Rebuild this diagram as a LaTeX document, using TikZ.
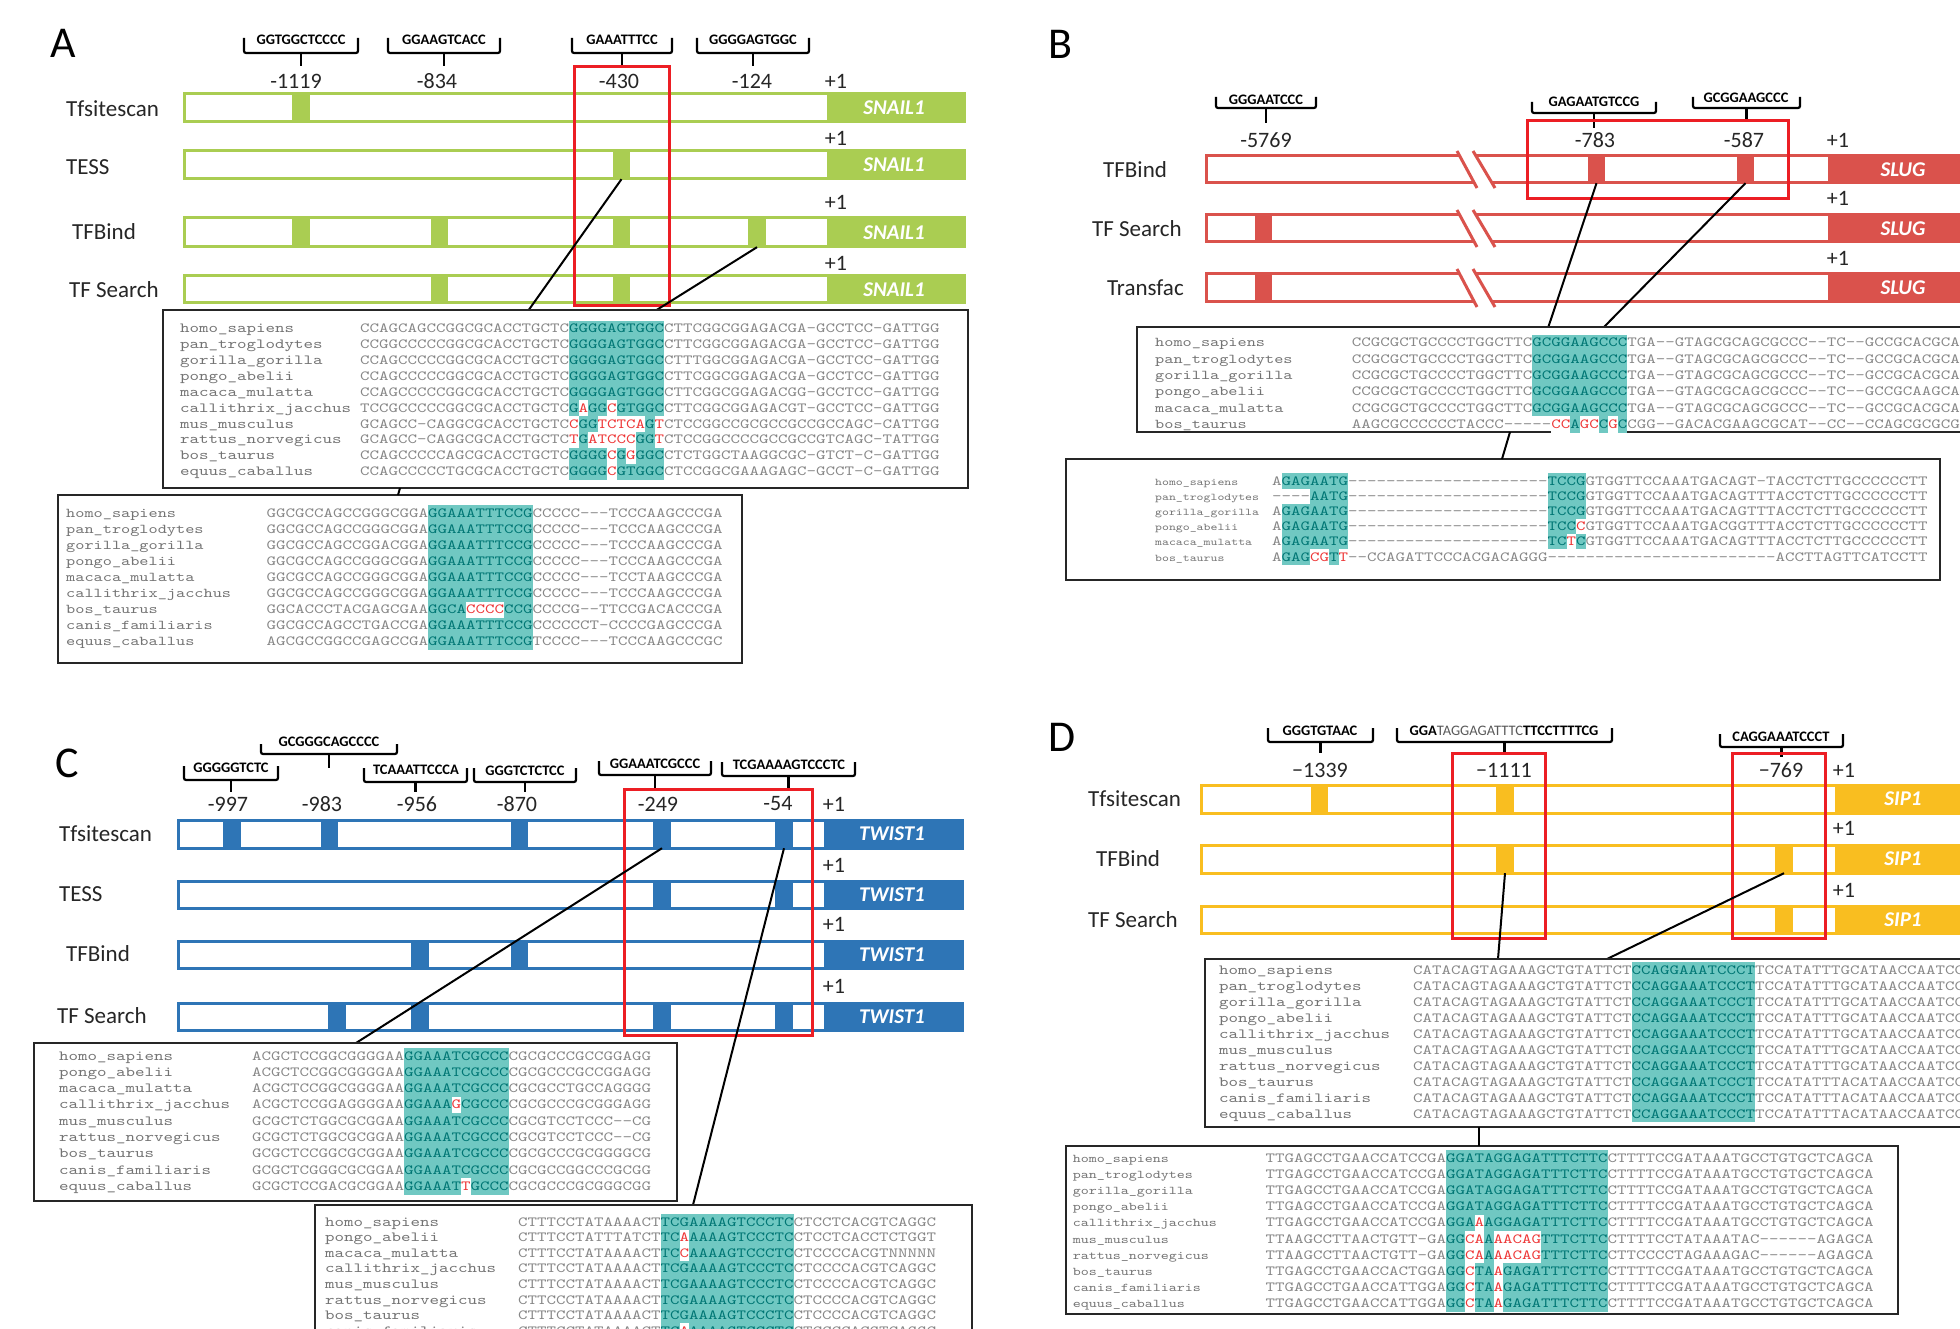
\documentclass[tikz,border=0pt]{standalone}
\usepackage{fontspec}
\setmainfont{Carlito}
\newfontfamily\seqf[FakeStretch=1.2925]{lmmono10-regular.otf}
\definecolor{cgreen}{RGB}{170,205,82}
\definecolor{cred}{RGB}{218,82,76}
\definecolor{cblue}{RGB}{46,117,182}
\definecolor{cyell}{RGB}{249,190,32}
\definecolor{boxred}{RGB}{236,30,36}
\definecolor{hlc}{RGB}{112,200,194}
\definecolor{motc}{RGB}{0,118,116}
\definecolor{seqc}{RGB}{135,135,135}
\definecolor{namec}{RGB}{115,115,115}
\definecolor{redc}{RGB}{238,55,55}
\newlength\rowh \newlength\rowd
\setlength\rowh{16pt}\setlength\rowd{4pt}
\def\NFS{14}
\newcommand\hl[1]{\setbox0=\hbox{#1}\rlap{\color{hlc}\rule[-\rowd]{\wd0}{\rowh}}\textcolor{motc}{#1}}
\newcommand\rd[1]{\setbox2=\hbox{#1}\rlap{\color{white}\rule[-\rowd]{\wd2}{\rowh}}\textcolor{redc}{#1}}
\newcommand\setblock[6]{\def\BID{#1}\def\NX{#2}\def\SX{#3}\def\YZ{#4}\def\PT{#5}\def\NFS{#6}%
  \setlength\rowh{#5pt}\setlength\rowd{\dimexpr #5pt/2-4pt\relax}}
\newcommand\arow[3]{%
  \node[namest] (\BID-#1n) at ({\NX},{\YZ+\PT*#1+4}) {#2};
  \node[seqst] (\BID-#1s) at ({\SX},{\YZ+\PT*#1+4}) {#3};}
\newcommand\genebar[9]{%
  \draw[draw=#2, line width=3pt, fill=white] (#3,#6) rectangle (#5,#7);
  \fill[#2] (#4,#6) rectangle (#5,#7);
  \node[genest] (#1) at ({#9},{(#6+#7)/2}) {#8};}
\newcommand\smark[6]{\node[sitemark, fill=#2, minimum width={(#4-#3)*1pt}, minimum height={(#6-#5)*1pt}] (#1) at ({(#3+#4)/2},{(#5+#6)/2}) {};}
\newcommand\brk[5]{\draw[brkst] (#1,#3) -- (#1,#4) -- (#2,#4) -- (#2,#3);
  \draw[brkst] ({(#1+#2)/2},#4) -- ({(#1+#2)/2},#5);}
\newcommand\brkmark[2]{%
  \fill[white] ({1457},{#1-5}) -- ({1473},{#1-5}) -- ({1495},{#2+5}) -- ({1477},{#2+5}) -- cycle;
  \draw[cred, line width=3pt] ({1457},{#1-5}) -- ({1477},{#2+5});
  \draw[cred, line width=3pt] ({1473},{#1-5}) -- ({1495},{#2+5});}
\tikzset{
 plet/.style={font=\fontsize{44}{48}\selectfont, inner sep=0},
 brkst/.style={line width=2.2pt, rounded corners=2pt, draw=black},
 brklbl/.style={font=\bfseries\fontsize{14.5}{16}\selectfont, inner sep=0},
 numst/.style={font=\fontsize{22}{24}\selectfont, inner sep=0, text=black!85},
 lblst/.style={font=\fontsize{23}{26}\selectfont, inner sep=0, anchor=west, text=black!85},
 genest/.style={font=\bfseries\itshape\fontsize{21}{24}\selectfont, text=white, inner sep=0},
 redbox/.style={draw=boxred, line width=3pt},
 conn/.style={draw=black, line width=2pt},
 alnbox/.style={draw=black!85, line width=2.5pt, fill=white},
 namest/.style={anchor=base west, inner sep=0, font=\seqf\fontsize{\NFS}{16}\selectfont, text=namec},
 seqst/.style={anchor=base west, inner sep=0, font=\seqf\fontsize{14}{16}\selectfont, text=seqc},
 sitemark/.style={inner sep=0, draw=none},
}
\begin{document}
\begin{tikzpicture}[x=1pt,y=-1pt]
\useasboundingbox (0,0) rectangle (1960,1329);
\clip (0,0) rectangle (1960,1329);
\fill[white] (0,0) rectangle (1960,1329);

%%%%%%%%%%%%%%%% PANEL A
\node[plet] (LA) at (63,43) {A};
\brk{244}{358}{38}{53}{66}
\brk{388}{500}{38}{53}{66}
\brk{572}{672}{38}{53}{66}
\brk{697}{809}{38}{53}{66}
\node[brklbl] (Ak1) at (301,40) {GGTGGCTCCCC};
\node[brklbl] (Ak2) at (444,40) {GGAAGTCACC};
\node[brklbl] (Ak3) at (622,40) {GAAATTTCC};
\node[brklbl] (Ak4) at (753,40) {GGGGAGTGGC};
\node[numst] (An1) at (296,81) {-1119};
\node[numst] (An2) at (437,81) {-834};
\node[numst] (An3) at (619,81) {-430};
\node[numst] (An4) at (752,81) {-124};
\node[numst] (Ap1) at (836,81) {+1};
\node[numst] (Ap2) at (836,138) {+1};
\node[numst] (Ap3) at (836,202) {+1};
\node[numst] (Ap4) at (836,263) {+1};
\node[lblst] (Al1) at (66,109) {Tfsitescan};
\node[lblst] (Al2) at (66,167) {TESS};
\node[lblst] (Al3) at (72,232) {TFBind};
\node[lblst] (Al4) at (69,290) {TF Search};
\genebar{Ag1}{cgreen}{184}{827}{964}{94}{122}{SNAIL1}{894}
\genebar{Ag2}{cgreen}{184}{827}{964}{151}{179}{SNAIL1}{894}
\genebar{Ag3}{cgreen}{184}{827}{964}{218}{247}{SNAIL1}{894}
\genebar{Ag4}{cgreen}{184}{827}{964}{276}{303}{SNAIL1}{894}
\smark{At1}{cgreen}{292}{310}{94}{122}
\smark{Ae1}{cgreen}{613}{630}{151}{179}
\smark{Ab1}{cgreen}{292}{310}{218}{247}
\smark{Ab2}{cgreen}{431}{448}{218}{247}
\smark{Ab3}{cgreen}{613}{630}{218}{247}
\smark{Ab4}{cgreen}{748}{766}{218}{247}
\smark{As1}{cgreen}{431}{448}{276}{303}
\smark{As2}{cgreen}{613}{630}{276}{303}
\draw[redbox] (574,67) rectangle (669,306);
\coordinate (A1a) at (528,311);
\coordinate (A1b) at (655,311);
\draw[conn] (Ae1.south) -- (A1a);
\draw[conn] (Ab4.south) -- (A1b);
\draw[alnbox] (163,310) rectangle (968,488);
\draw[alnbox] (58,495) rectangle (742,663);
\coordinate (A1c) at (400,488);
\coordinate (A2c) at (398,495);
\draw[conn] (A1c) -- (A2c);

\setblock{A1}{180}{360}{329}{15.85}{14}
\arow{0}{homo\_sapiens}{CCAGCAGCCGGCGCACCTGCTC\hl{GGGGAGTGGC}CTTCGGCGGAGACGA-GCCTCC-GATTGG}
\arow{1}{pan\_troglodytes}{CCGGCCCCCGGCGCACCTGCTC\hl{GGGGAGTGGC}CTTCGGCGGAGACGA-GCCTCC-GATTGG}
\arow{2}{gorilla\_gorilla}{CCAGCCCCCGGCGCACCTGCTC\hl{GGGGAGTGGC}CTTTGGCGGAGACGA-GCCTCC-GATTGG}
\arow{3}{pongo\_abelii}{CCAGCCCCCGGCGCACCTGCTC\hl{GGGGAGTGGC}CTTCGGCGGAGACGA-GCCTCC-GATTGG}
\arow{4}{macaca\_mulatta}{CCAGCCCCCGGCGCACCTGCTC\hl{GGGGAGTGGC}CTTCGGCGGAGACGG-GCCTCC-GATTGG}
\arow{5}{callithrix\_jacchus}{TCCGCCCCCGGCGCACCTGCTC\hl{G\rd{A}GG\rd{C}GTGGC}CTTCGGCGGAGACGT-GCCTCC-GATTGG}
\arow{6}{mus\_musculus}{GCAGCC-CAGGCGCACCTGCTC\hl{\rd{C}GG\rd{TCTCA}G\rd{T}}CTCCGGCCGCGCCGCCGCCAGC-CATTGG}
\arow{7}{rattus\_norvegicus}{GCAGCC-CAGGCGCACCTGCTC\hl{\rd{T}G\rd{ATCCC}GG\rd{T}}CTCCGGCCCCGCCGCCGTCAGC-TATTGG}
\arow{8}{bos\_taurus}{CCAGCCCCCAGCGCACCTGCTC\hl{GGGG\rd{C}G\rd{G}GGC}CTCTGGCTAAGGCGC-GTCT-C-GATTGG}
\arow{9}{equus\_caballus}{CCAGCCCCCTGCGCACCTGCTC\hl{GGGG\rd{C}GTGGC}CTCCGGCGAAAGAGC-GCCT-C-GATTGG}

\setblock{A2}{66}{266.5}{513}{16.1}{13.5}
\arow{0}{homo\_sapiens}{GGCGCCAGCCGGGCGGA\hl{GGAAATTTCCG}CCCCC---TCCCAAGCCCGA}
\arow{1}{pan\_troglodytes}{GGCGCCAGCCGGGCGGA\hl{GGAAATTTCCG}CCCCC---TCCCAAGCCCGA}
\arow{2}{gorilla\_gorilla}{GGCGCCAGCCGGACGGA\hl{GGAAATTTCCG}CCCCC---TCCCAAGCCCGA}
\arow{3}{pongo\_abelii}{GGCGCCAGCCGGGCGGA\hl{GGAAATTTCCG}CCCCC---TCCCAAGCCCGA}
\arow{4}{macaca\_mulatta}{GGCGCCAGCCGGGCGGA\hl{GGAAATTTCCG}CCCCC---TCCTAAGCCCGA}
\arow{5}{callithrix\_jacchus}{GGCGCCAGCCGGGCGGA\hl{GGAAATTTCCG}CCCCC---TCCCAAGCCCGA}
\arow{6}{bos\_taurus}{GGCACCCTACGAGCGAA\hl{GGCA\rd{CCCC}CCG}CCCCG--TTCCGACACCCGA}
\arow{7}{canis\_familiaris}{GGCGCCAGCCTGACCGA\hl{GGAAATTTCCG}CCCCCCT-CCCCGAGCCCGA}
\arow{8}{equus\_caballus}{AGCGCCGGCCGAGCCGA\hl{GGAAATTTCCG}TCCCC---TCCCAAGCCCGC}

%%%%%%%%%%%%%%%% PANEL B
\node[plet] (LB) at (1060,44) {B};
\brk{1216}{1316}{97}{108}{123}
\brk{1532}{1656}{102}{113}{128}
\brk{1693}{1800}{97}{108}{121}
\node[brklbl] (Bk1) at (1266,100) {GGGAATCCC};
\node[brklbl] (Bk2) at (1594,102) {GAGAATGTCCG};
\node[brklbl] (Bk3) at (1746,98) {GCGGAAGCCC};
\node[numst] (Bn1) at (1266,140) {-5769};
\node[numst] (Bn2) at (1595,140) {-783};
\node[numst] (Bn3) at (1744,140) {-587};
\node[numst] (Bp1) at (1838,140) {+1};
\node[numst] (Bp2) at (1838,198) {+1};
\node[numst] (Bp3) at (1838,258) {+1};
\node[lblst] (Bl1) at (1103,169.5) {TFBind};
\node[lblst] (Bl2) at (1092,228.5) {TF Search};
\node[lblst] (Bl3) at (1107,288) {Transfac};
\genebar{Bg1}{cred}{1206}{1828}{1990}{156}{183}{SLUG}{1903}
\genebar{Bg2}{cred}{1206}{1828}{1990}{215}{242}{SLUG}{1903}
\genebar{Bg3}{cred}{1206}{1828}{1990}{274}{302}{SLUG}{1903}
\brkmark{156}{183}
\brkmark{215}{242}
\brkmark{274}{302}
\smark{Bb1}{cred}{1588}{1605}{156}{183}
\smark{Bb2}{cred}{1737}{1754}{156}{183}
\smark{Bs1}{cred}{1255}{1272}{215}{242}
\smark{Bt1}{cred}{1255}{1272}{274}{302}
\draw[redbox] (1527,121) rectangle (1788,199);
\coordinate (B1a) at (1548,328);
\coordinate (B1b) at (1603,328);
\draw[conn] (Bb1.south) -- (B1a);
\draw[conn] (Bb2.south) -- (B1b);
\draw[alnbox] (1137,327) rectangle (1990,432);
\draw[alnbox] (1066,459) rectangle (1940,580);
\coordinate (B1c) at (1510,432);
\coordinate (B2c) at (1502,459);
\draw[conn] (B1c) -- (B2c);

\setblock{B1}{1155}{1351.6}{343}{16.3}{13.5}
\arow{0}{homo\_sapiens}{CCGCGCTGCCCCTGGCTTC\hl{GCGGAAGCCC}TGA--GTAGCGCAGCGCCC--TC--GCCGCACGCAA}
\arow{1}{pan\_troglodytes}{CCGCGCTGCCCCTGGCTTC\hl{GCGGAAGCCC}TGA--GTAGCGCAGCGCCC--TC--GCCGCACGCAA}
\arow{2}{gorilla\_gorilla}{CCGCGCTGCCCCTGGCTTC\hl{GCGGAAGCCC}TGA--GTAGCGCAGCGCCC--TC--GCCGCACGCAA}
\arow{3}{pongo\_abelii}{CCGCGCTGCCCCTGGCTTC\hl{GCGGAAGCCC}TGA--GTAGCGCAGCGCCC--TC--GCCGCAAGCAA}
\arow{4}{macaca\_mulatta}{CCGCGCTGCCCCTGGCTTC\hl{GCGGAAGCCC}TGA--GTAGCGCAGCGCCC--TC--GCCGCACGCAA}
\arow{5}{bos\_taurus}{AAGCGCCCCCCTACCC-----\rd{CC}\hl{A}\rd{GC}\hl{C}\rd{G}\hl{C}CGG--GACACGAAGCGCAT--CC--CCAGCGCGCGA}

\setblock{B2}{1155}{1272}{481}{15.2}{10.2}
\arow{0}{homo\_sapiens}{A\hl{GAGAATG}---------------------\hl{TCCG}GTGGTTCCAAATGACAGT-TACCTCTTGCCCCCCTT}
\arow{1}{pan\_troglodytes}{----\hl{AATG}---------------------\hl{TCCG}GTGGTTCCAAATGACAGTTTACCTCTTGCCCCCCTT}
\arow{2}{gorilla\_gorilla}{A\hl{GAGAATG}---------------------\hl{TCCG}GTGGTTCCAAATGACAGTTTACCTCTTGCCCCCCTT}
\arow{3}{pongo\_abelii}{A\hl{GAGAATG}---------------------\hl{TCC\rd{C}}GTGGTTCCAAATGACGGTTTACCTCTTGCCCCCCTT}
\arow{4}{macaca\_mulatta}{A\hl{GAGAATG}---------------------\hl{TC\rd{T}C}GTGGTTCCAAATGACAGTTTACCTCTTGCCCCCCTT}
\arow{5}{bos\_taurus}{A\hl{GAG\rd{CG}T\rd{T}}--CCAGATTCCCACGACAGGG------------------------ACCTTAGTTCATCCTT}

%%%%%%%%%%%%%%%% PANEL C
\node[plet] (LC) at (67,763) {C};
\brk{184}{278}{766}{780}{792}
\brk{261}{397}{744}{754}{768}
\brk{364}{467}{768}{782}{792}
\brk{474}{576}{768}{782}{792}
\brk{599}{711}{761}{775}{789}
\brk{722}{855}{762}{776}{789}
\node[brklbl] (Ck1) at (231,768) {GGGGGTCTC};
\node[brklbl] (Ck2) at (329,742) {GCGGGCAGCCCC};
\node[brklbl] (Ck3) at (416,770) {TCAAATTCCCA};
\node[brklbl] (Ck4) at (525,771) {GGGTCTCTCC};
\node[brklbl] (Ck5) at (655,764) {GGAAATCGCCC};
\node[brklbl] (Ck6) at (789,765) {TCGAAAAGTCCCTC};
\node[numst] (Cn1) at (228,804) {-997};
\node[numst] (Cn2) at (322,804) {-983};
\node[numst] (Cn3) at (417,804) {-956};
\node[numst] (Cn4) at (517,804) {-870};
\node[numst] (Cn5) at (658,804) {-249};
\node[numst] (Cn6) at (778,804) {-54};
\node[numst] (Cp1) at (834,804) {+1};
\node[numst] (Cp2) at (834,865) {+1};
\node[numst] (Cp3) at (834,924) {+1};
\node[numst] (Cp4) at (834,986) {+1};
\node[lblst] (Cl1) at (59,834) {Tfsitescan};
\node[lblst] (Cl2) at (59,894) {TESS};
\node[lblst] (Cl3) at (66,954) {TFBind};
\node[lblst] (Cl4) at (57,1016) {TF Search};
\genebar{Cg1}{cblue}{178}{824}{962}{820}{848}{TWIST1}{892}
\genebar{Cg2}{cblue}{178}{824}{962}{881}{908}{TWIST1}{892}
\genebar{Cg3}{cblue}{178}{824}{962}{941}{968}{TWIST1}{892}
\genebar{Cg4}{cblue}{178}{824}{962}{1003}{1030}{TWIST1}{892}
\smark{Ct1}{cblue}{223}{241}{820}{848}
\smark{Ct2}{cblue}{321}{338}{820}{848}
\smark{Ct5}{cblue}{511}{528}{820}{848}
\smark{Ct6}{cblue}{653}{671}{820}{848}
\smark{Ct7}{cblue}{775}{793}{820}{848}
\smark{Ce6}{cblue}{653}{671}{881}{908}
\smark{Ce7}{cblue}{775}{793}{881}{908}
\smark{Cb4}{cblue}{411}{429}{941}{968}
\smark{Cb5}{cblue}{511}{528}{941}{968}
\smark{Cs3}{cblue}{328}{346}{1003}{1030}
\smark{Cs4}{cblue}{411}{429}{1003}{1030}
\smark{Cs6}{cblue}{653}{671}{1003}{1030}
\smark{Cs7}{cblue}{775}{793}{1003}{1030}
\draw[redbox] (624,789) rectangle (812,1035);
\coordinate (C1a) at (356,1043);
\coordinate (C2a) at (693,1205);
\draw[conn] (Ct6.south) -- (C1a);
\draw[conn] (Ct7.south) -- (C2a);
\draw[alnbox] (34,1043) rectangle (677,1201);
\draw[alnbox] (315,1205) rectangle (972,1345);

\setblock{C1}{59}{252}{1056}{16.3}{14}
\arow{0}{homo\_sapiens}{ACGCTCCGGCGGGGAA\hl{GGAAATCGCCC}CGCGCCCGCCGGAGG}
\arow{1}{pongo\_abelii}{ACGCTCCGGCGGGGAA\hl{GGAAATCGCCC}CGCGCCCGCCGGAGG}
\arow{2}{macaca\_mulatta}{ACGCTCCGGCGGGGAA\hl{GGAAATCGCCC}CGCGCCTGCCAGGGG}
\arow{3}{callithrix\_jacchus}{ACGCTCCGGAGGGGAA\hl{GGAAA\rd{G}CGCCC}CGCGCCCGCGGGAGG}
\arow{4}{mus\_musculus}{GCGCTCTGGCGCGGAA\hl{GGAAATCGCCC}CGCGTCCTCCC--CG}
\arow{5}{rattus\_norvegicus}{GCGCTCTGGCGCGGAA\hl{GGAAATCGCCC}CGCGTCCTCCC--CG}
\arow{6}{bos\_taurus}{GCGCTCCGGCGCGGAA\hl{GGAAATCGCCC}CGCGCCCGCGGGGCG}
\arow{7}{canis\_familiaris}{GCGCTCGGGCGCGGAA\hl{GGAAATCGCCC}CGCGCCGGCCCGCGG}
\arow{8}{equus\_caballus}{GCGCTCCGACGCGGAA\hl{GGAAAT\rd{T}GCCC}CGCGCCCGCGGGCGG}

\setblock{C2}{325}{518}{1222}{15.6}{14}
\arow{0}{homo\_sapiens}{CTTTCCTATAAAACT\hl{TCGAAAAGTCCCTC}CTCCTCACGTCAGGC}
\arow{1}{pongo\_abelii}{CTTTCCTATTTATCT\hl{TC\rd{A}AAAAGTCCCTC}CTCCTCACCTCTGGT}
\arow{2}{macaca\_mulatta}{CTTTCCTATAAAACT\hl{TC\rd{C}AAAAGTCCCTC}CTCCCCACGTNNNNN}
\arow{3}{callithrix\_jacchus}{CTTTCCTATAAAACT\hl{TCGAAAAGTCCCTC}CTCCCCACGTCAGGC}
\arow{4}{mus\_musculus}{CTTTCCTATAAAACT\hl{TCGAAAAGTCCCTC}CTCCCCACGTCAGGC}
\arow{5}{rattus\_norvegicus}{CTTCCCTATAAAACT\hl{TCGAAAAGTCCCTC}CTCCCCACGTCAGGC}
\arow{6}{bos\_taurus}{CTTTCCTATAAAACT\hl{TCGAAAAGTCCCTC}CTCCCCACGTCAGGC}
\arow{7}{canis\_familiaris}{CTTTCCTATAAAACT\hl{TC\rd{A}AAAAGTCCCTC}CTCCCCACGTCAGGC}

%%%%%%%%%%%%%%%% PANEL D
\node[plet] (LD) at (1062,737) {D};
\brk{1268}{1373}{728}{742}{753}
\brk{1397}{1612}{728}{742}{753}
\brk{1720}{1843}{734}{747}{757}
\node[brklbl] (Dk1) at (1320,731) {GGGTGTAAC};
\node[brklbl] (Dk2) at (1504,731) {GGA{\mdseries\color{black!65}TAGGAGATTTC}TTCCTTTTCG};
\node[brklbl] (Dk3) at (1781,737) {CAGGAAATCCCT};
\node[numst] (Dn1) at (1320,770) {−1339};
\node[numst] (Dn2) at (1504,770) {−1111};
\node[numst] (Dn3) at (1781,770) {−769};
\node[numst] (Dp1) at (1844,770) {+1};
\node[numst] (Dp2) at (1844,828) {+1};
\node[numst] (Dp3) at (1844,890) {+1};
\node[lblst] (Dl1) at (1088,799) {Tfsitescan};
\node[lblst] (Dl2) at (1096,859) {TFBind};
\node[lblst] (Dl3) at (1088,919.5) {TF Search};
\genebar{Dg1}{cyell}{1201}{1835}{1990}{785}{813}{SIP1}{1903}
\genebar{Dg2}{cyell}{1201}{1835}{1990}{845}{873}{SIP1}{1903}
\genebar{Dg3}{cyell}{1201}{1835}{1990}{906}{933}{SIP1}{1903}
\smark{Dt1}{cyell}{1311}{1328}{785}{813}
\smark{Dt2}{cyell}{1496}{1514}{785}{813}
\smark{Db1}{cyell}{1496}{1514}{845}{873}
\smark{Db2}{cyell}{1775}{1793}{845}{873}
\smark{Ds1}{cyell}{1775}{1793}{906}{933}
\draw[redbox] (1452,753) rectangle (1545,938);
\draw[redbox] (1732,753) rectangle (1825,938);
\coordinate (D1a) at (1498,959);
\coordinate (D1b) at (1607,959);
\draw[conn] (Db1.south) -- (D1a);
\draw[conn] (Db2.south) -- (D1b);
\draw[alnbox] (1205,959) rectangle (1990,1127);
\draw[alnbox] (1066,1146) rectangle (1898,1314);
\coordinate (D1c) at (1479,1127);
\coordinate (D2c) at (1479,1146);
\draw[conn] (D1c) -- (D2c);

\setblock{D1}{1219}{1413}{970}{16.04}{14}
\arow{0}{homo\_sapiens}{CATACAGTAGAAAGCTGTATTCT\hl{CCAGGAAATCCCT}TCCATATTTGCATAACCAATCC}
\arow{1}{pan\_troglodytes}{CATACAGTAGAAAGCTGTATTCT\hl{CCAGGAAATCCCT}TCCATATTTGCATAACCAATCC}
\arow{2}{gorilla\_gorilla}{CATACAGTAGAAAGCTGTATTCT\hl{CCAGGAAATCCCT}TCCATATTTGCATAACCAATCC}
\arow{3}{pongo\_abelii}{CATACAGTAGAAAGCTGTATTCT\hl{CCAGGAAATCCCT}TCCATATTTGCATAACCAATCC}
\arow{4}{callithrix\_jacchus}{CATACAGTAGAAAGCTGTATTCT\hl{CCAGGAAATCCCT}TCCATATTTGCATAACCAATCC}
\arow{5}{mus\_musculus}{CATACAGTAGAAAGCTGTATTCT\hl{CCAGGAAATCCCT}TCCATATTTGCATAACCAATCC}
\arow{6}{rattus\_norvegicus}{CATACAGTAGAAAGCTGTATTCT\hl{CCAGGAAATCCCT}TCCATATTTGCATAACCAATCC}
\arow{7}{bos\_taurus}{CATACAGTAGAAAGCTGTATTCT\hl{CCAGGAAATCCCT}TCCATATTTACATAACCAATCC}
\arow{8}{canis\_familiaris}{CATACAGTAGAAAGCTGTATTCT\hl{CCAGGAAATCCCT}TCCATATTTACATAACCAATCC}
\arow{9}{equus\_caballus}{CATACAGTAGAAAGCTGTATTCT\hl{CCAGGAAATCCCT}TCCATATTTACATAACCAATCC}

\setblock{D2}{1072.6}{1265.5}{1158}{16.2}{11.8}
\arow{0}{homo\_sapiens}{TTGAGCCTGAACCATCCGA\hl{GGATAGGAGATTTCTTC}CTTTTCCGATAAATGCCTGTGCTCAGCA}
\arow{1}{pan\_troglodytes}{TTGAGCCTGAACCATCCGA\hl{GGATAGGAGATTTCTTC}CTTTTCCGATAAATGCCTGTGCTCAGCA}
\arow{2}{gorilla\_gorilla}{TTGAGCCTGAACCATCCGA\hl{GGATAGGAGATTTCTTC}CTTTTCCGATAAATGCCTGTGCTCAGCA}
\arow{3}{pongo\_abelii}{TTGAGCCTGAACCATCCGA\hl{GGATAGGAGATTTCTTC}CTTTTCCGATAAATGCCTGTGCTCAGCA}
\arow{4}{callithrix\_jacchus}{TTGAGCCTGAACCATCCGA\hl{GGA\rd{A}AGGAGATTTCTTC}CTTTTCCGATAAATGCCTGTGCTCAGCA}
\arow{5}{mus\_musculus}{TTAAGCCTTAACTGTT-GA\hl{GG\rd{CA}A\rd{AACAG}TTTCTTC}CTTTTCCTATAAATAC------AGAGCA}
\arow{6}{rattus\_norvegicus}{TTAAGCCTTAACTGTT-GA\hl{GG\rd{CA}A\rd{AACAG}TTTCTTC}CTTCCCCTAGAAAGAC------AGAGCA}
\arow{7}{bos\_taurus}{TTGAGCCTGAACCACTGGA\hl{GG\rd{C}TA\rd{A}GAGATTTCTTC}CTTTTCCGATAAATGCCTGTGCTCAGCA}
\arow{8}{canis\_familiaris}{TTGAGCCTGAACCATTGGA\hl{GG\rd{C}TA\rd{A}GAGATTTCTTC}CTTTTCCGATAAATGCCTGTGCTCAGCA}
\arow{9}{equus\_caballus}{TTGAGCCTGAACCATTGGA\hl{GG\rd{C}TA\rd{A}GAGATTTCTTC}CTTTTCCGATAAATGCCTGTGCTCAGCA}
\end{tikzpicture}
\end{document}
